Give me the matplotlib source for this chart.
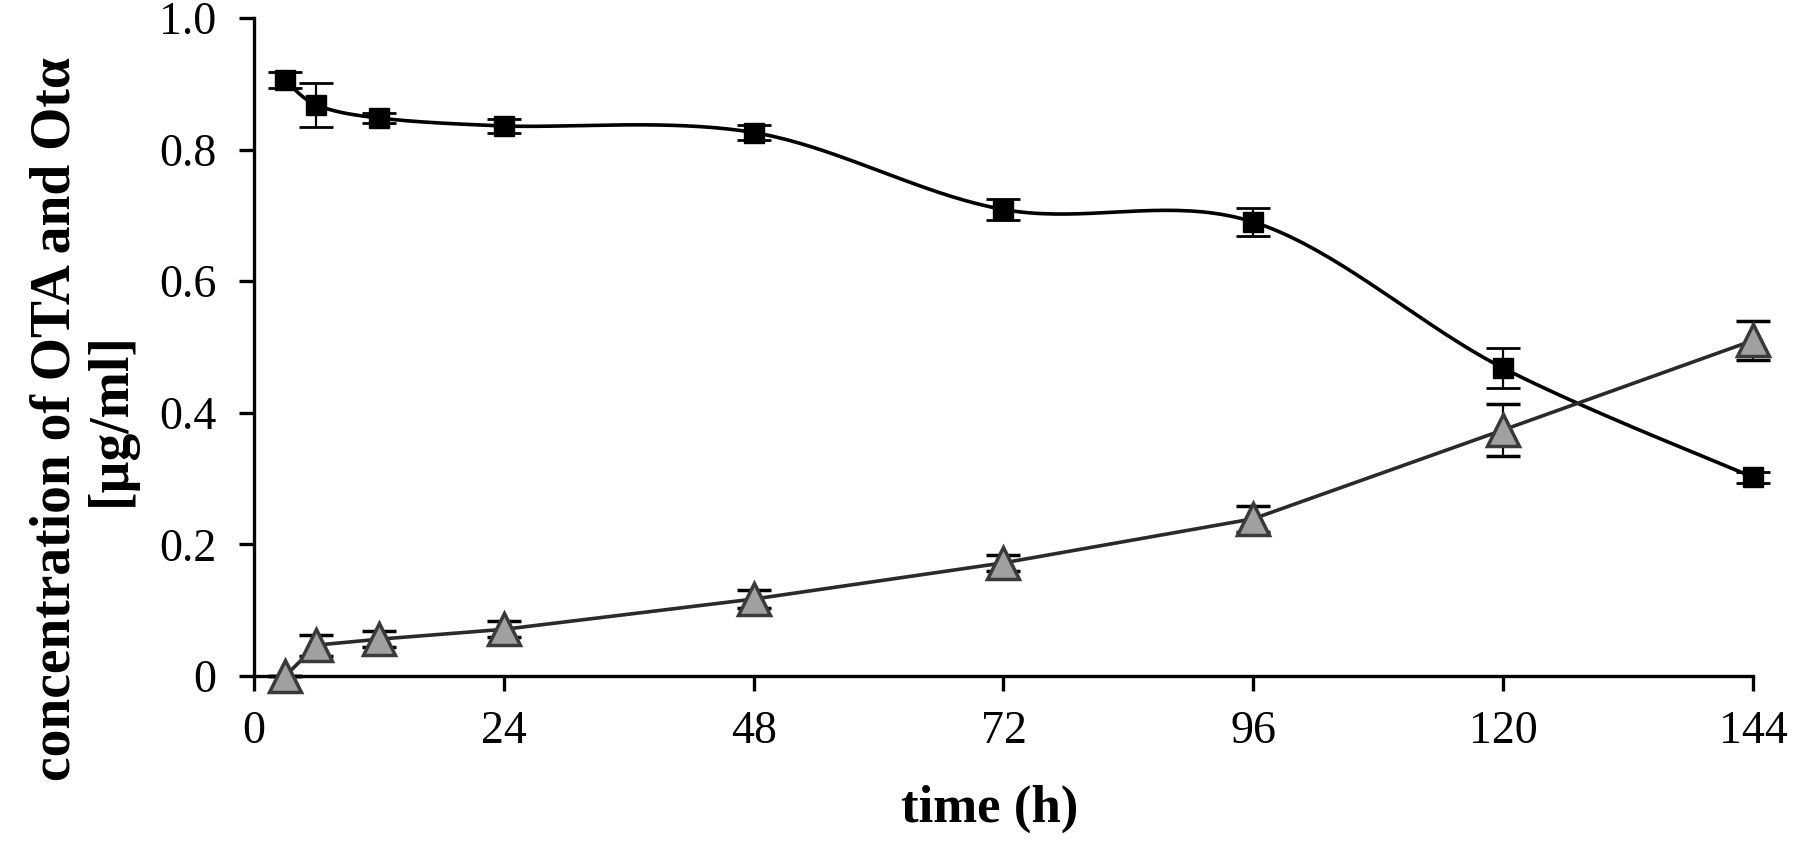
import matplotlib
matplotlib.use("Agg")
import matplotlib.pyplot as plt
import numpy as np

# data
time_h = [3, 6, 12, 24, 48, 72, 96, 120, 144]
ota = [0.906, 0.868, 0.848, 0.836, 0.826, 0.709, 0.690, 0.468, 0.302]
ota_err = [0.012, 0.034, 0.008, 0.010, 0.011, 0.016, 0.022, 0.031, 0.008]
ot_alpha = [0.0, 0.047, 0.056, 0.071, 0.117, 0.172, 0.239, 0.374, 0.510]
ot_alpha_err = [0.0, 0.016, 0.012, 0.012, 0.014, 0.012, 0.020, 0.040, 0.030]

x_ticks = [0, 24, 48, 72, 96, 120, 144]
y_ticks = [0, 0.2, 0.4, 0.6, 0.8, 1.0]
y_tick_labels = ["0", "0.2", "0.4", "0.6", "0.8", "1.0"]


def smooth(x, y, n=40):
    # excel-like smoothed line (catmull-rom as bezier)
    p = np.column_stack([x, y]).astype(float)
    p = np.vstack([p[0], p, p[-1]])
    out = []
    t = np.linspace(0, 1, n)[:, None]
    for i in range(1, len(p) - 2):
        p0, p1, p2, p3 = p[i - 1], p[i], p[i + 1], p[i + 2]
        c1 = p1 + (p2 - p0) / 6
        c2 = p2 - (p3 - p1) / 6
        seg = ((1 - t) ** 3) * p1 + 3 * ((1 - t) ** 2) * t * c1 \
            + 3 * (1 - t) * t ** 2 * c2 + t ** 3 * p2
        out.append(seg)
    out = np.vstack(out)
    return out[:, 0], out[:, 1]


plt.rcParams["font.family"] = ["Liberation Serif", "DejaVu Serif"]

fig = plt.figure(figsize=(18, 8.42), dpi=100)
ax = fig.add_axes([0.1411, 0.1971, 0.8328, 0.7815])

sx, sy = smooth(time_h, ota)
ax.plot(sx, sy, color="black", lw=2.6, zorder=2, clip_on=False)
ax.errorbar(time_h, ota, yerr=ota_err, fmt="s", color="black", ms=15,
            ecolor="black", elinewidth=1.6, capsize=12, capthick=2,
            zorder=3, clip_on=False)

ax.plot(time_h, ot_alpha, color="#2a2a2a", lw=2.6, zorder=2, clip_on=False)
ax.errorbar(time_h, ot_alpha, yerr=ot_alpha_err, fmt="^", ms=23,
            mfc="#a0a0a0", mec="#3a3a3a", mew=2.5, ecolor="black",
            elinewidth=1.6, capsize=12, capthick=2, zorder=3, clip_on=False)

ax.set_xlim(0, 144)
ax.set_ylim(0, 1.0)
ax.set_xticks(x_ticks)
ax.set_yticks(y_ticks)
ax.set_yticklabels(y_tick_labels)

for s in ["top", "right"]:
    ax.spines[s].set_visible(False)
for s in ["left", "bottom"]:
    ax.spines[s].set_linewidth(2.4)

ax.tick_params(axis="both", direction="out", length=11, width=2.4,
               labelsize=33)
ax.tick_params(axis="x", pad=14)
ax.tick_params(axis="y", pad=16)

ax.set_xlabel("time (h)", fontsize=38, fontweight="bold")
ax.xaxis.set_label_coords(0.491, -0.165)
ax.set_ylabel("concentration of OTA and Otα\n[µg/ml]", fontsize=40,
              fontweight="bold", linespacing=1.1)
ax.yaxis.set_label_coords(-0.078, 0.39)

fig.savefig("out.png", dpi=100)
